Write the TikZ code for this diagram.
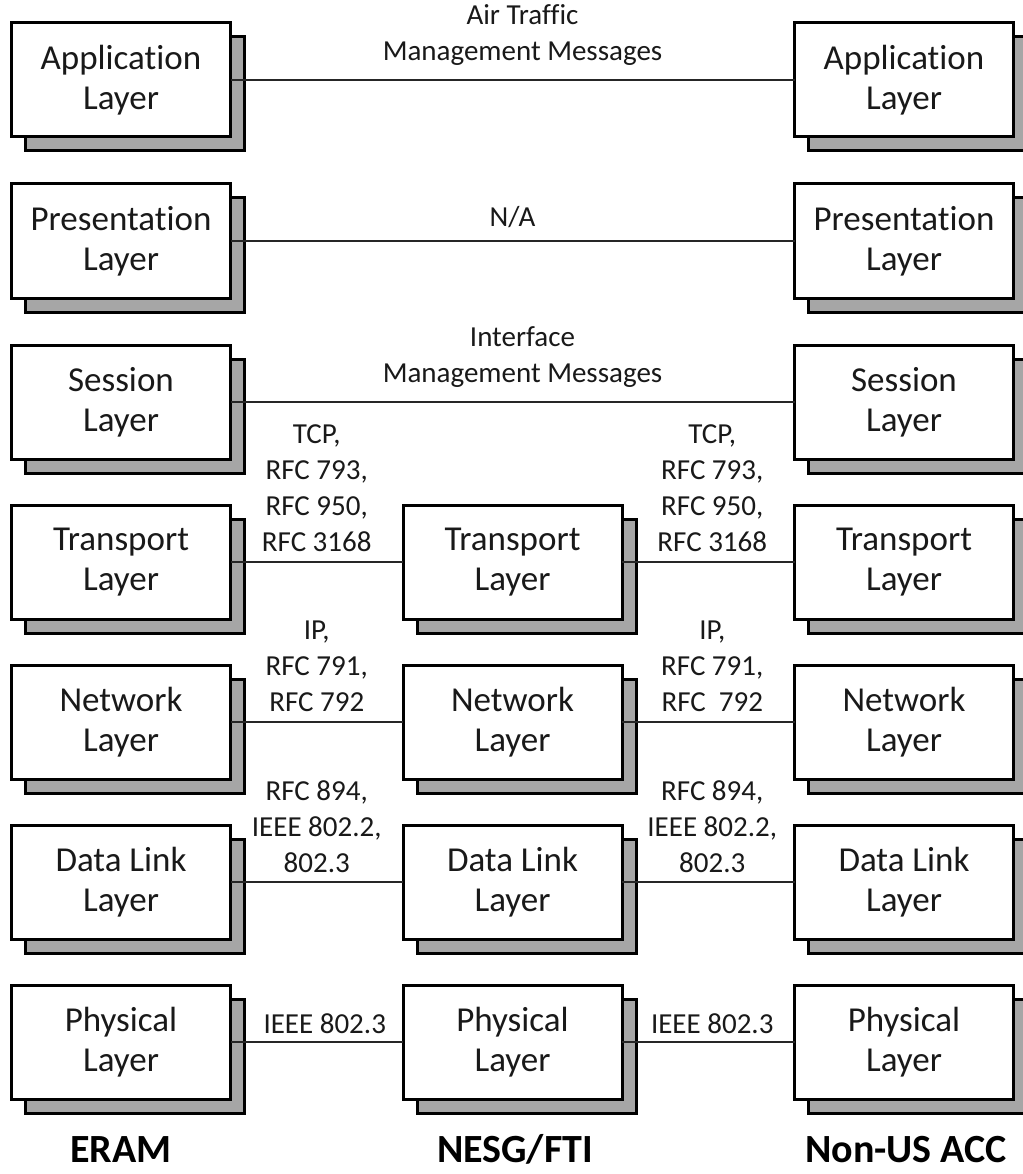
\documentclass[tikz,border=0pt]{standalone}
\usepackage{fontspec}
\setmainfont{Carlito}[Ligatures=NoCommon]
\usetikzlibrary{backgrounds}
\definecolor{shadowgray}{RGB}{166,166,166}
\definecolor{textgray}{RGB}{25,25,25}
\tikzset{
  layerbox/.style={draw=black, line width=3pt, fill=white, minimum width=219pt,
    minimum height=114pt, inner sep=0pt, outer sep=0pt, align=center,
    text=textgray, font=\fontsize{35}{40}\selectfont},
  boxshadow/.style={draw=black, line width=3pt, fill=shadowgray},
  link/.style={line width=1.3pt, draw=black!85},
  linklabel/.style={font=\fontsize{29}{36}\selectfont, align=center, anchor=south,
    inner sep=0pt, text depth=0pt, text=textgray},
  sysname/.style={font=\fontsize{40}{48}\selectfont\bfseries, anchor=base, text=black}
}
\begin{document}
\begin{tikzpicture}[x=1pt,y=-1pt]
\useasboundingbox (0,0) rectangle (1022,1174);
% boxes
\node[layerbox] (app1) at (121,80)   {Application\\Layer};
\node[layerbox] (app3) at (904,80)   {Application\\Layer};
\node[layerbox] (pre1) at (121,241)  {Presentation\\Layer};
\node[layerbox] (pre3) at (904,241)  {Presentation\\Layer};
\node[layerbox] (ses1) at (121,402)  {Session\\Layer};
\node[layerbox] (ses3) at (904,402)  {Session\\Layer};
\node[layerbox] (tra1) at (121,562)  {Transport\\Layer};
\node[layerbox] (tra2) at (512.5,562) {Transport\\Layer};
\node[layerbox] (tra3) at (904,562)  {Transport\\Layer};
\node[layerbox] (net1) at (121,722)  {Network\\Layer};
\node[layerbox] (net2) at (512.5,722) {Network\\Layer};
\node[layerbox] (net3) at (904,722)  {Network\\Layer};
\node[layerbox] (dl1) at (121,882)   {Data Link\\Layer};
\node[layerbox] (dl2) at (512.5,882) {Data Link\\Layer};
\node[layerbox] (dl3) at (904,882)   {Data Link\\Layer};
\node[layerbox] (phy1) at (121,1042)  {Physical\\Layer};
\node[layerbox] (phy2) at (512.5,1042) {Physical\\Layer};
\node[layerbox] (phy3) at (904,1042)  {Physical\\Layer};
% shadows
\begin{scope}[on background layer]
\foreach \n in {app1,app3,pre1,pre3,ses1,ses3,tra1,tra2,tra3,net1,net2,net3,dl1,dl2,dl3,phy1,phy2,phy3}
  \draw[boxshadow] ([xshift=14pt,yshift=-14pt]\n.south west) rectangle ([xshift=14pt,yshift=-14pt]\n.north east);
\end{scope}
% connectors
\draw[link] (app1.east) -- (app3.west)
  node[midway, linklabel, yshift=19pt, xshift=10pt] {Air Traffic\\Management Messages};
\draw[link] (pre1.east) -- (pre3.west)
  node[midway, linklabel, yshift=14pt] {N/A};
\draw[link] (ses1.east) -- (ses3.west)
  node[midway, linklabel, yshift=19pt, xshift=10pt] {Interface\\Management Messages};
\draw[link] (tra1.east) -- (tra2.west)
  node[midway, linklabel, yshift=10pt] {TCP,\\RFC 793,\\RFC 950,\\RFC 3168};
\draw[link] (tra2.east) -- (tra3.west)
  node[midway, linklabel, yshift=10pt, xshift=4pt] {TCP,\\RFC 793,\\RFC 950,\\RFC 3168};
\draw[link] (net1.east) -- (net2.west)
  node[midway, linklabel, yshift=10pt] {IP,\\RFC 791,\\RFC 792};
\draw[link] (net2.east) -- (net3.west)
  node[midway, linklabel, yshift=10pt, xshift=4pt] {IP,\\RFC 791,\\RFC~~792};
\draw[link] (dl1.east) -- (dl2.west)
  node[midway, linklabel, yshift=9pt] {RFC 894,\\IEEE 802.2,\\802.3};
\draw[link] (dl2.east) -- (dl3.west)
  node[midway, linklabel, yshift=9pt, xshift=4pt] {RFC 894,\\IEEE 802.2,\\802.3};
\draw[link] (phy1.east) -- (phy2.west)
  node[midway, linklabel, yshift=8pt, xshift=8pt] {IEEE 802.3};
\draw[link] (phy2.east) -- (phy3.west)
  node[midway, linklabel, yshift=8pt, xshift=4pt] {IEEE 802.3};
% system names
\node[sysname] (eram) at (121,1162) {ERAM};
\node[sysname] (nesg) at (515,1162) {NESG/FTI};
\node[sysname] (nonus) at (906,1162) {Non-US ACC};
\end{tikzpicture}
\end{document}
